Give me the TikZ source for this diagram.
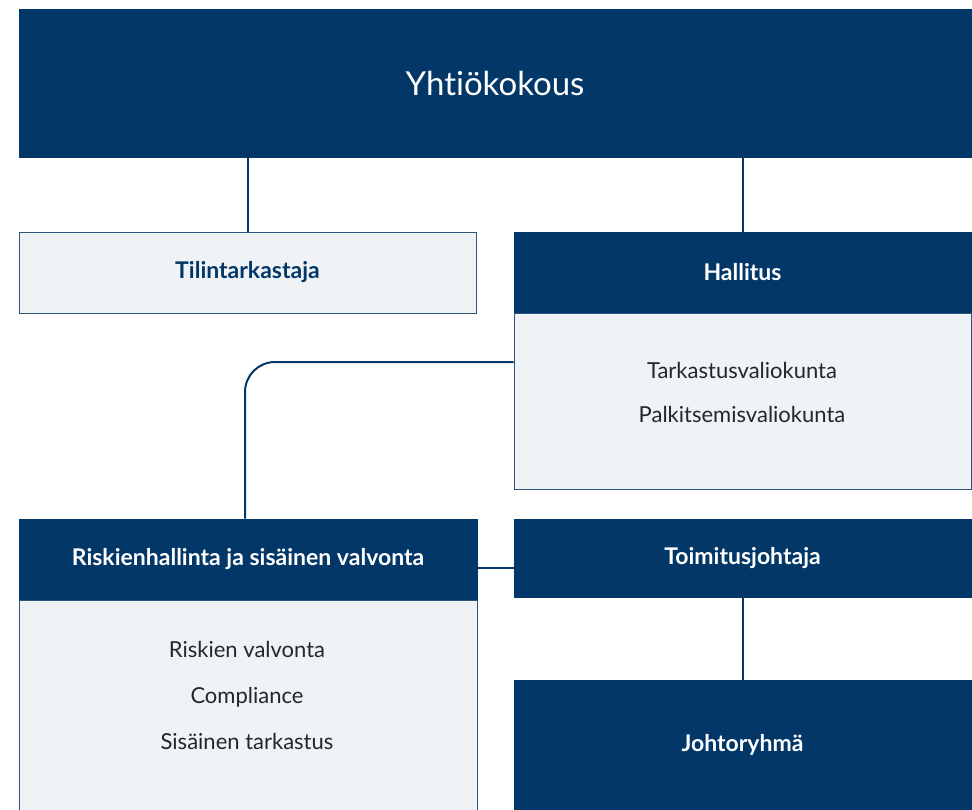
\documentclass[tikz,border=0pt]{standalone}
\usepackage{fontspec}
\setmainfont{Lato}[Ligatures=NoCommon]
\usetikzlibrary{calc}
\usetikzlibrary{positioning}

\definecolor{navy}{RGB}{3,55,103}
\definecolor{paleblue}{RGB}{239,243,246}

\tikzset{
  darkbox/.style={fill=navy,draw=navy,line width=1pt,text=white,inner sep=0pt,
    font=\bfseries\fontsize{23}{27}\selectfont},
  palebox/.style={fill=paleblue,draw=navy!85,line width=1pt,inner sep=0pt},
  item/.style={anchor=base,text=black!85,font=\fontsize{22}{26}\selectfont},
  link/.style={draw=navy,line width=2pt}
}

\begin{document}
\begin{tikzpicture}[x=1pt,y=-1pt]

\useasboundingbox (0,0) rectangle (972,809);
\clip (0,0) rectangle (972,809);
\fill[white] (0,0) rectangle (972,809);

\node[darkbox,minimum width=952pt,minimum height=148pt,
  font=\fontsize{33}{38}\selectfont] (yk) at (495,83) {Yhtiökokous};

\node[palebox,minimum width=457pt,minimum height=81pt,text=navy,
  font=\bfseries\fontsize{23}{27}\selectfont] (tt) at (247.5,272.5) {Tilintarkastaja};

\node[darkbox,minimum width=457pt,minimum height=81pt] (hh) at (742.5,272.5) {Hallitus};
\node[palebox,minimum width=457pt,minimum height=176pt] (hb) at (742.5,401) {};
\node[item] (tv) at (742,378) {Tarkastusvaliokunta};
\node[item] (pv) at (742,422) {Palkitsemisvaliokunta};

\node[darkbox,minimum width=458pt,minimum height=81pt] (rh) at (248,559.5) {Riskienhallinta ja sisäinen valvonta};
\node[palebox,minimum width=458pt,minimum height=240pt] (rb) at (248,720) {};
\node[item] (rv) at (247,657) {Riskien valvonta};
\node[item] (co) at (247,703) {Compliance};
\node[item] (st) at (247,749) {Sisäinen tarkastus};

\node[darkbox,minimum width=457pt,minimum height=78pt] (tj) at (742.5,558) {Toimitusjohtaja};
\node[darkbox,minimum width=457pt,minimum height=129pt] (jr) at (742.5,744.5) {Johtoryhmä};

\draw[link] (yk.south -| tt.north) -- (tt.north);
\draw[link] (yk.south -| hh.north) -- (hh.north);
\draw[link,rounded corners=30pt] ([yshift=39pt]hb.west) -| ([xshift=-3pt]rh.north);
\draw[link] ([yshift=-8pt]rh.east) -- ([yshift=-8pt]rh.east -| tj.west);
\draw[link] (tj.south) -- (jr.north);

\end{tikzpicture}
\end{document}
